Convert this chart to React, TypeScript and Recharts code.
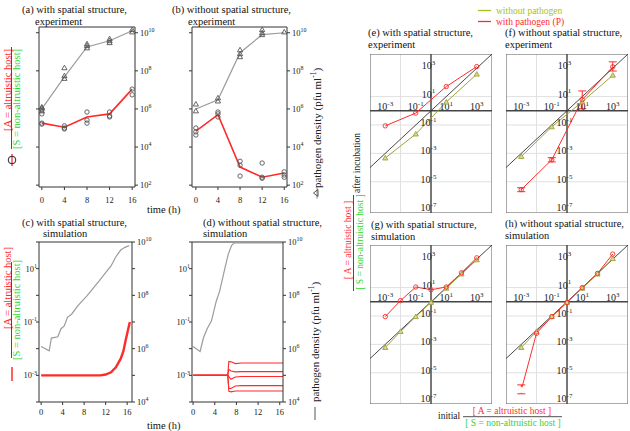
import React from 'react';
import {
  ComposedChart, LineChart, Line, XAxis, YAxis, CartesianGrid,
  ReferenceLine, ReferenceArea, ReferenceDot, ErrorBar,
} from 'recharts';

const FONT = "'Liberation Serif', 'DejaVu Serif', serif";
const RED = '#ff2b2b';
const GREEN = '#2fd52f';
const OLIVE = '#9ea33a';
const LEGEND_GREEN = '#a6c21e';
const GRAY = '#9b9b9b';
const INK = '#333';

// (a), (b) experiment: sampling times and replicate measurements
const hours = [0, 4, 8, 12, 16];

const aRatio = [1.8e-3, 1.1e-3, 3.8e-3, 5.5e-3, 0.11];
const aRatioReps = [
  [8.9e-3, 5.5e-3, 1.8e-3, 1.6e-3],
  [1.3e-3, 1.0e-3, 8.9e-4],
  [6.9e-3, 2.6e-3, 1.8e-3],
  [6.9e-3, 4.3e-3, 3.8e-3],
  [0.11, 0.055],
];
const aPath = [1.0e6, 4.8e7, 1.8e9, 3.8e9, 1.26e10];
const aPathReps = [
  [1.26e6, 1.1e6, 7.9e5],
  [1.45e8, 5.5e7, 4.0e7],
  [2.6e9, 2.1e9, 1.6e9],
  [4.8e9, 3.8e9, 3.0e9],
  [1.45e10, 1.1e10],
];

const bRatio = [6.9e-4, 5.0e-3, 8.9e-6, 2.6e-6, 4.3e-6];
const bRatioReps = [
  [1.0e-3, 6.3e-4, 4.3e-4],
  [6.9e-3, 5.5e-3, 3.8e-3],
  [1.8e-5, 1.1e-5, 3.0e-6],
  [1.45e-5, 2.6e-6, 2.3e-6],
  [5.0e-6, 3.4e-6, 2.6e-6],
];
const bPath = [1.0e6, 3.0e6, 8.9e8, 7.9e9, 1.0e10];
const bPathReps = [
  [1.8e6, 7.9e5],
  [3.8e6, 2.6e6],
  [1.26e9, 7.9e8, 5.5e8],
  [1.45e10, 1.0e10, 7.9e9],
  [1.1e10],
];

// (c), (d) simulation curves
const cPathT = [0, 1.5, 1.9, 3.1, 3.7, 4.3, 4.9, 5.7, 6.8, 7.7, 8.6, 9.8, 10.8, 12, 13, 13.9, 14.8, 15.6, 16.4];
const cPath = [1.2e6, 8.3e5, 2.5e6, 2.8e6, 5.6e6, 7.1e6, 1.5e7, 2.0e7, 4.0e7, 6.3e7, 1.0e8, 2.0e8, 3.5e8, 7.1e8, 1.26e9, 2.8e9, 5.0e9, 6.3e9, 7.4e9];
const cRatioT = [0, 11, 12, 13, 13.9, 14.8, 15.3, 15.7, 16.1, 16.5];
const cRatio = [1.0e-3, 1.0e-3, 1.07e-3, 1.3e-3, 2.0e-3, 4.2e-3, 8.0e-3, 0.02, 0.045, 0.1];

const dPathT = [0, 1.3, 1.9, 2.6, 3.4, 4.3, 4.9, 5.9, 6.5, 7.1, 7.6, 16.6];
const dPath = [1.2e6, 7.9e5, 2.5e6, 5.6e6, 1.1e7, 6.3e7, 1.4e8, 1.1e9, 3.5e9, 7.4e9, 9.3e9, 9.3e9];
const dRatioT = [0, 6.4, 6.6, 7.0, 7.8, 9.0, 16.6];
const dRatios = [
  [1e-3, 1e-3, 3.3e-3, 3.2e-3, 2.75e-3, 2.9e-3, 2.9e-3],
  [1e-3, 1e-3, 1.66e-3, 1.45e-3, 1.35e-3, 1.38e-3, 1.38e-3],
  [1e-3, 1e-3, 8.9e-4, 7.1e-4, 8.7e-4, 9.1e-4, 9.1e-4],
  [1e-3, 1e-3, 3.2e-4, 3.2e-4, 4.0e-4, 4.1e-4, 4.1e-4],
  [1e-3, 1e-3, 2.5e-4, 2.4e-4, 2.6e-4, 2.6e-4, 2.6e-4],
];

// (e)-(h) initial vs after incubation
const initial4 = [1e-3, 0.1, 10, 1000];
const initial7 = [1e-3, 1e-2, 0.1, 1, 10, 100, 1000];
const eWith = [0.087, 0.69, 51, 1300];
const eWithout = [4.7e-4, 0.023, 4.1, 380];
const fWith = [2.8e-6, 3.5e-4, 6, 1260];
const fWithErr = [[0.8e-6, 1.0e-6], [1e-4, 1.5e-4], [4.6, 19], [630, 1540]];
const fWithout = [6e-4, 0.074, 4.3, 320];
const gWith = [0.09, 1.2, 11, 7, 11, 110, 1250];
const gWithout = [6e-4, 8e-3, 0.09, 0.9, 9, 90, 900];
const hWith = [6e-7, 6e-3, 0.09, 0.9, 10, 100, 2300];
const hWithErr = [2.7e-7, 8e-7]; // only the lowest point carries a visible error bar
const hWithout = [6e-4, 8e-3, 0.09, 0.9, 9, 90, 1100];

const decX = [1e-4, 1e-3, 1e-2, 0.1, 1, 10, 100, 1e3, 1e4];
const decY = [1e-7, 1e-6, 1e-5, 1e-4, 1e-3, 1e-2, 0.1, 1, 10, 100, 1e3, 1e4];
const xLabelExp = [-3, -1, 1, 3];
const yLabelExp = [3, 1, -1, -3, -5, -7];

const series = (xs: number[], ys: number[], key = 't') => xs.map((x, i) => ({ [key]: x, v: ys[i] }));
const reps = (rs: number[][]) => hours.flatMap((t, i) => rs[i].map((v) => ({ t, v })));

const circleDot = (color: string, r = 2.4) => (p: any) =>
  p.cx == null ? <g key={p.key} /> : <circle key={p.key} cx={p.cx} cy={p.cy} r={r} fill="none" stroke={color} strokeWidth={0.9} />;
const triDot = (color: string, fill = 'none', s = 3) => (p: any) =>
  p.cx == null ? <g key={p.key} /> : (
    <path key={p.key} d={`M${p.cx},${p.cy - s}L${p.cx + s},${p.cy + s * 0.75}L${p.cx - s},${p.cy + s * 0.75}Z`}
      fill={fill} stroke={color} strokeWidth={0.9} />
  );

function Pow({ x, y, e, size, anchor }: { x: number; y: number; e: number; size: number; anchor: string }) {
  return (
    <text x={x} y={y} textAnchor={anchor as any} fontSize={size} style={{ fontFamily: FONT }} fill="#222">
      10<tspan dy={-size * 0.42} fontSize={size * 0.7}>{e}</tspan>
    </text>
  );
}

const powTick = (shown: number[], side: 'l' | 'r') => (p: any) => {
  const e = Math.round(Math.log10(p.payload.value));
  if (!shown.includes(e)) return <g />;
  return <Pow x={side === 'l' ? p.x + 3 : p.x} y={p.y + 3} e={e} size={8.5} anchor={side === 'l' ? 'end' : 'start'} />;
};
const timeTick = (dy: number) => (p: any) => (
  <text x={p.x} y={p.y + dy} textAnchor="middle" fontSize={8.5} style={{ fontFamily: FONT }} fill="#222">{p.payload.value}</text>
);

function TimePanel(props: {
  left: number; top: number; width: number; leftW: number; xDomain: number[];
  lDomain: number[]; rDomain: number[]; lTicks: number[]; rTicks: number[];
  lShown: number[]; rShown: number[]; tickDy: number; children: React.ReactNode;
}) {
  return (
    <div style={{ position: 'absolute', left: props.left, top: props.top }}>
      <ComposedChart width={props.width} height={212} margin={{ top: 27, right: 0, bottom: 0, left: 0 }}>
        <XAxis type="number" dataKey="t" domain={props.xDomain} ticks={hours} allowDataOverflow height={25}
          tickSize={3} stroke={INK} tick={timeTick(props.tickDy)} />
        <YAxis yAxisId="l" type="number" scale="log" domain={props.lDomain} ticks={props.lTicks} allowDataOverflow
          width={props.leftW} tickSize={3} stroke={INK} tick={powTick(props.lShown, 'l')} />
        <YAxis yAxisId="r" orientation="right" type="number" scale="log" domain={props.rDomain} ticks={props.rTicks}
          allowDataOverflow width={40} tickSize={3} stroke={INK} tick={powTick(props.rShown, 'r')} />
        <ReferenceLine yAxisId="l" y={props.lDomain[1]} stroke={INK} />
        {props.children}
      </ComposedChart>
    </div>
  );
}

const X_DOM = [1e-4, 1e4];
const Y_DOM = [6.3e-8, 1e4];

function RatioPanel({ left, top, children }: { left: number; top: number; children: React.ReactNode }) {
  return (
    <div style={{ position: 'absolute', left, top }}>
      <LineChart width={122} height={159} margin={{ top: 0, right: 0, bottom: 0, left: 0 }}>
        <CartesianGrid stroke="#e0e0e0" />
        <XAxis type="number" dataKey="x" scale="log" domain={X_DOM} ticks={decX} allowDataOverflow hide />
        <YAxis type="number" scale="log" domain={Y_DOM} ticks={decY} allowDataOverflow hide />
        <ReferenceArea x1={X_DOM[0]} x2={X_DOM[1]} y1={Y_DOM[0]} y2={Y_DOM[1]} fill="none" stroke="#666" strokeWidth={1} />
        <ReferenceLine x={1} stroke="#444" strokeWidth={1.4} />
        <ReferenceLine y={1} stroke="#444" strokeWidth={1.4} />
        <ReferenceLine segment={[{ x: X_DOM[0], y: X_DOM[0] }, { x: X_DOM[1], y: X_DOM[1] }]} stroke="#333" strokeWidth={0.9} />
        {xLabelExp.map((e) => (
          <ReferenceDot key={'xl' + e} x={10 ** e} y={1} r={0}
            shape={(p: any) => <Pow x={p.cx} y={p.cy - 1} e={e} size={10} anchor="middle" />} />
        ))}
        {yLabelExp.map((e) => (
          <ReferenceDot key={'yl' + e} x={1} y={10 ** e} r={0}
            shape={(p: any) => <Pow x={p.cx - 2.5} y={p.cy + 1} e={e} size={10} anchor="middle" />} />
        ))}
        {children}
      </LineChart>
    </div>
  );
}

const Rot = ({ x, y, size, fill, children }: { x: number; y: number; size: number; fill: string; children: React.ReactNode }) => (
  <text transform={`translate(${x},${y}) rotate(-90)`} textAnchor="middle" dominantBaseline="central"
    fontSize={size} fill={fill} style={{ fontFamily: FONT }}>{children}</text>
);
const T = ({ x, y, size = 10.5, fill = '#111', anchor = 'start', children }: any) => (
  <text x={x} y={y} fontSize={size} fill={fill} style={{ fontFamily: FONT }} textAnchor={anchor}>{children}</text>
);

const abL = [8e-7, 200];
const abR = [80, 2e10];
const abLTicks = [1e-6, 1e-5, 1e-4, 1e-3, 1e-2, 0.1, 1, 10, 100];
const abRTicks = [1e2, 1e3, 1e4, 1e5, 1e6, 1e7, 1e8, 1e9, 1e10];
const cdL = [1e-4, 100];
const cdR = [1e4, 1e10];
const cdLTicks = [1e-4, 1e-3, 1e-2, 0.1, 1, 10, 100];
const cdRTicks = [1e4, 1e5, 1e6, 1e7, 1e8, 1e9, 1e10];

export default function App() {
  const line = { isAnimationActive: false, dot: false, activeDot: false } as any;
  const pts = { isAnimationActive: false, stroke: 'none', activeDot: false } as any;
  const mk = { isAnimationActive: false, activeDot: false } as any;
  return (
    <div style={{ position: 'absolute', left: 0, top: 0, width: 630, height: 431, background: '#fff', overflow: 'hidden', fontFamily: FONT }}>
      <TimePanel left={0} top={0} width={175} leftW={39} xDomain={[-0.5, 16.5]} lDomain={abL} rDomain={abR}
        lTicks={abLTicks} rTicks={abRTicks} lShown={[1, -1, -3, -5]} rShown={[2, 4, 6, 8, 10]} tickDy={11}>
        <Line yAxisId="r" data={series(hours, aPath)} dataKey="v" stroke={GRAY} strokeWidth={1.2} {...line} />
        <Line yAxisId="r" data={reps(aPathReps)} dataKey="v" {...pts} dot={triDot('#555', 'none', 2.6)} />
        <Line yAxisId="l" data={series(hours, aRatio)} dataKey="v" stroke={RED} strokeWidth={1.6} {...line} />
        <Line yAxisId="l" data={reps(aRatioReps)} dataKey="v" {...pts} dot={circleDot('#555', 2.2)} />
      </TimePanel>
      <TimePanel left={152} top={0} width={175} leftW={40} xDomain={[-0.7, 16.5]} lDomain={abL} rDomain={abR}
        lTicks={abLTicks} rTicks={abRTicks} lShown={[1, -1, -3, -5]} rShown={[2, 4, 6, 8, 10]} tickDy={11}>
        <Line yAxisId="r" data={series(hours, bPath)} dataKey="v" stroke={GRAY} strokeWidth={1.2} {...line} />
        <Line yAxisId="r" data={reps(bPathReps)} dataKey="v" {...pts} dot={triDot('#555', 'none', 2.6)} />
        <Line yAxisId="l" data={series(hours, bRatio)} dataKey="v" stroke={RED} strokeWidth={1.6} {...line} />
        <Line yAxisId="l" data={reps(bRatioReps)} dataKey="v" {...pts} dot={circleDot('#555', 2.2)} />
      </TimePanel>
      <TimePanel left={0} top={215} width={172} leftW={39} xDomain={[-0.4, 16.9]} lDomain={cdL} rDomain={cdR}
        lTicks={cdLTicks} rTicks={cdRTicks} lShown={[1, -1, -3]} rShown={[4, 6, 8, 10]} tickDy={8}>
        <Line yAxisId="r" data={series(cPathT, cPath)} dataKey="v" stroke={GRAY} strokeWidth={1.2} {...line} />
        <Line yAxisId="l" data={series(cRatioT, cRatio)} dataKey="v" stroke={RED} strokeWidth={2.4} {...line} />
      </TimePanel>
      <TimePanel left={152} top={215} width={171} leftW={40} xDomain={[-0.2, 16.6]} lDomain={cdL} rDomain={cdR}
        lTicks={cdLTicks} rTicks={cdRTicks} lShown={[1, -1, -3]} rShown={[4, 6, 8, 10]} tickDy={8}>
        <Line yAxisId="r" data={series(dPathT, dPath)} dataKey="v" stroke={GRAY} strokeWidth={1.2} {...line} />
        {dRatios.map((r, i) => (
          <Line key={i} yAxisId="l" data={series(dRatioT, r)} dataKey="v" stroke={RED} strokeWidth={1.1} {...line} />
        ))}
      </TimePanel>

      <RatioPanel left={370} top={54}>
        <Line data={series(initial4, eWithout, 'x')} dataKey="v" stroke={OLIVE} strokeWidth={1} {...mk} dot={triDot(OLIVE, '#d8d890', 2.6)} />
        <Line data={series(initial4, eWith, 'x')} dataKey="v" stroke={RED} strokeWidth={1} {...mk} dot={circleDot(RED, 2.2)} />
      </RatioPanel>
      <RatioPanel left={506} top={54}>
        <Line data={series(initial4, fWithout, 'x')} dataKey="v" stroke={OLIVE} strokeWidth={1} {...mk} dot={triDot(OLIVE, '#d8d890', 2.6)} />
        <Line data={initial4.map((x, i) => ({ x, v: fWith[i], err: fWithErr[i] }))} dataKey="v" stroke={RED} strokeWidth={1}
          {...mk} dot={circleDot(RED, 2.2)}>
          <ErrorBar dataKey="err" width={4} stroke={RED} strokeWidth={1} direction="y" />
        </Line>
      </RatioPanel>
      <RatioPanel left={370} top={245}>
        <Line data={series(initial7, gWithout, 'x')} dataKey="v" stroke={OLIVE} strokeWidth={1} {...mk} dot={triDot(OLIVE, '#d8d890', 2.6)} />
        <Line data={series(initial7, gWith, 'x')} dataKey="v" stroke={RED} strokeWidth={1} {...mk} dot={circleDot(RED, 2.2)} />
      </RatioPanel>
      <RatioPanel left={506} top={245}>
        <Line data={series(initial7, hWithout, 'x')} dataKey="v" stroke={OLIVE} strokeWidth={1} {...mk} dot={triDot(OLIVE, '#d8d890', 2.6)} />
        <Line data={series(initial7, hWith, 'x')} dataKey="v" stroke={RED} strokeWidth={1} {...mk} dot={circleDot(RED, 2.2)} />
        <Line data={[{ x: initial7[0], v: hWith[0], err: hWithErr }]} dataKey="v" stroke="none" {...mk} dot={false}>
          <ErrorBar dataKey="err" width={4} stroke={RED} strokeWidth={1} direction="y" />
        </Line>
      </RatioPanel>

      <svg width={630} height={431} style={{ position: 'absolute', left: 0, top: 0, pointerEvents: 'none' }}>
        <T x={22} y={13}>(a) with spatial structure,</T>
        <T x={35} y={25}>experiment</T>
        <T x={172} y={13}>(b) without spatial structure,</T>
        <T x={188} y={25}>experiment</T>
        <T x={22} y={226}>(c) with spatial structure,</T>
        <T x={43} y={237}>simulation</T>
        <T x={203} y={226}>(d) without spatial structure,</T>
        <T x={203} y={237}>simulation</T>
        <T x={368} y={36}>(e) with spatial structure,</T>
        <T x={368} y={48}>experiment</T>
        <T x={505} y={36}>(f) without spatial structure,</T>
        <T x={505} y={48}>experiment</T>
        <T x={371} y={228}>(g) with spatial structure,</T>
        <T x={371} y={240}>simulation</T>
        <T x={505} y={227}>(h) without spatial structure,</T>
        <T x={505} y={239}>simulation</T>

        <line x1={478} x2={491} y1={10.5} y2={10.5} stroke={LEGEND_GREEN} strokeWidth={1.3} />
        <T x={496} y={13.5} size={9.5} fill={LEGEND_GREEN}>without pathogen</T>
        <line x1={478} x2={491} y1={21.5} y2={21.5} stroke={RED} strokeWidth={1.3} />
        <T x={496} y={25} size={9.5} fill={RED}>with pathogen (P)</T>

        <T x={147} y={213}>time (h)</T>
        <T x={147} y={429}>time (h)</T>

        <Rot x={7} y={90} size={10.5} fill={RED}>[A = altruistic host]</Rot>
        <line x1={11.5} x2={11.5} y1={47} y2={149} stroke="#222" strokeWidth={0.8} />
        <Rot x={16.5} y={99} size={10.5} fill={GREEN}>[S = non-altruistic host]</Rot>
        <line x1={12} x2={12} y1={154} y2={166} stroke={RED} strokeWidth={1.3} />
        <circle cx={12} cy={160} r={3.8} fill="none" stroke="#222" strokeWidth={1} />

        <Rot x={7} y={288} size={10.5} fill={RED}>[A = altruistic host]</Rot>
        <line x1={11.5} x2={11.5} y1={262} y2={358} stroke="#222" strokeWidth={0.8} />
        <Rot x={16.5} y={310} size={10.5} fill={GREEN}>[S = non-altruistic host]</Rot>
        <line x1={12} x2={12} y1={367} y2={381} stroke={RED} strokeWidth={1.5} />

        <Rot x={317} y={128} size={11} fill="#222">
          pathogen density (pfu ml<tspan dy={-4} fontSize={7.5}>-1</tspan><tspan dy={4}>)</tspan>
        </Rot>
        <line x1={317} x2={317} y1={187} y2={199} stroke={GRAY} strokeWidth={1} />
        <path d="M313.5,193L318,189.5L318,196.5Z" fill="none" stroke="#444" strokeWidth={0.9} />
        <Rot x={315} y={342} size={11} fill="#222">
          pathogen density (pfu ml<tspan dy={-4} fontSize={7.5}>-1</tspan><tspan dy={4}>)</tspan>
        </Rot>
        <line x1={315} x2={315} y1={407} y2={420} stroke="#555" strokeWidth={1} />

        <Rot x={357} y={163} size={9.5} fill="#222">after incubation</Rot>
        <Rot x={348} y={240} size={9.5} fill={RED}>[ A = altruistic host ]</Rot>
        <line x1={353.5} x2={353.5} y1={195} y2={291} stroke="#222" strokeWidth={0.8} />
        <Rot x={360} y={242} size={9.5} fill={GREEN}>[ S = non-altruistic host ]</Rot>

        <T x={438} y={419} size={9.5} fill="#222">initial</T>
        <T x={512} y={414} size={9.5} fill={RED} anchor="middle">[ A = altruistic host ]</T>
        <line x1={463} x2={562} y1={416.7} y2={416.7} stroke="#222" strokeWidth={0.8} />
        <T x={513} y={426} size={9.5} fill={GREEN} anchor="middle">[ S = non-altruistic host ]</T>
      </svg>
    </div>
  );
}
